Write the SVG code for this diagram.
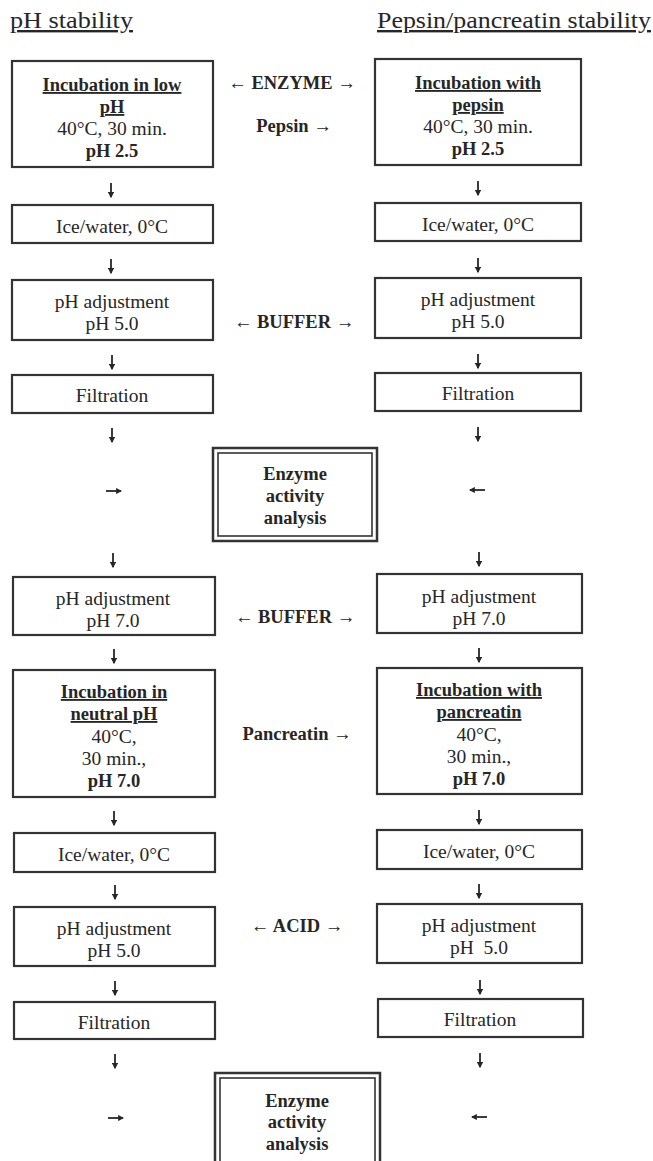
<svg xmlns="http://www.w3.org/2000/svg" width="653" height="1161" viewBox="0 0 653 1161">
<style>
text{font-family:"Liberation Serif","Times New Roman",serif;fill:#262626;font-size:19.5px;text-anchor:middle}
.b{font-weight:bold;font-size:18.5px}
.u{text-decoration:underline}
.title{font-size:24px;text-anchor:start;text-decoration:underline}
.box{fill:#fff;stroke:#333;stroke-width:2.2}
.dbo{fill:#fff;stroke:#333;stroke-width:2.5}
.dbi{fill:none;stroke:#333;stroke-width:1.6}
.arr{stroke:#262626;stroke-width:1.8;fill:none;marker-end:url(#ah)}
.lbl{font-weight:bold;font-size:18.5px}
</style>
<defs>
<marker id="ah" viewBox="0 0 10 10" refX="8" refY="5" markerWidth="3.4" markerHeight="3.4" orient="auto" markerUnits="strokeWidth">
<path d="M0,0 L10,5 L0,10 z" fill="#262626"/>
</marker>
</defs>
<rect width="653" height="1161" fill="#fff"/>

<g id="titles">
<text class="title" x="10" y="28" textLength="123" lengthAdjust="spacingAndGlyphs">pH stability</text>
<text class="title" x="377" y="28" textLength="274" lengthAdjust="spacingAndGlyphs">Pepsin/pancreatin stability</text>
</g>

<g id="L1"><rect class="box" x="12" y="61" width="201" height="106"/>
<text x="112" y="91" class="b u">Incubation in low </text>
<text x="112" y="113" class="b u">pH</text>
<text x="112" y="135">40°C, 30 min.</text>
<text x="112" y="157" class="b">pH 2.5</text></g>
<g id="R1"><rect class="box" x="375" y="59" width="206" height="106"/>
<text x="478" y="89" class="b u">Incubation with</text>
<text x="478" y="111" class="b u">pepsin</text>
<text x="478" y="133">40°C, 30 min.</text>
<text x="478" y="155" class="b">pH 2.5</text></g>

<g id="L2"><rect class="box" x="12" y="205" width="201" height="38"/><text x="112" y="233">Ice/water, 0°C</text></g>
<g id="R2"><rect class="box" x="375" y="203" width="206" height="38"/><text x="478" y="231">Ice/water, 0°C</text></g>

<g id="L3"><rect class="box" x="12" y="280" width="201" height="60"/><text x="112" y="308">pH adjustment</text><text x="112" y="330">pH 5.0</text></g>
<g id="R3"><rect class="box" x="375" y="278" width="206" height="60"/><text x="478" y="306">pH adjustment</text><text x="478" y="328">pH 5.0</text></g>

<g id="L4"><rect class="box" x="12" y="375" width="201" height="38"/><text x="112" y="402">Filtration</text></g>
<g id="R4"><rect class="box" x="375" y="373" width="206" height="38"/><text x="478" y="400">Filtration</text></g>

<g id="E1"><rect class="dbo" x="213" y="448" width="164" height="93"/><rect class="dbi" x="218" y="453" width="154" height="83"/>
<text x="295" y="480" class="b">Enzyme</text><text x="295" y="502" class="b">activity</text><text x="295" y="524" class="b">analysis</text></g>

<g id="L5"><rect class="box" x="13" y="577" width="202" height="58"/><text x="113" y="605">pH adjustment</text><text x="113" y="627">pH 7.0</text></g>
<g id="R5"><rect class="box" x="377" y="574" width="205" height="59"/><text x="479" y="603">pH adjustment</text><text x="479" y="625">pH 7.0</text></g>

<g id="L6"><rect class="box" x="13" y="670" width="202" height="127"/>
<text x="114" y="698" class="b u">Incubation in</text>
<text x="114" y="720" class="b u">neutral pH</text>
<text x="114" y="743">40°C,</text>
<text x="114" y="765">30 min.,</text>
<text x="114" y="787" class="b">pH 7.0</text></g>
<g id="R6"><rect class="box" x="377" y="668" width="205" height="126"/>
<text x="479" y="696" class="b u">Incubation with</text>
<text x="479" y="718" class="b u">pancreatin</text>
<text x="479" y="741">40°C,</text>
<text x="479" y="763">30 min.,</text>
<text x="479" y="785" class="b">pH 7.0</text></g>

<g id="L7"><rect class="box" x="14" y="833" width="201" height="39"/><text x="114" y="861">Ice/water, 0°C</text></g>
<g id="R7"><rect class="box" x="377" y="830" width="205" height="39"/><text x="479" y="858">Ice/water, 0°C</text></g>

<g id="L8"><rect class="box" x="14" y="907" width="201" height="59"/><text x="114" y="935">pH adjustment</text><text x="114" y="957">pH 5.0</text></g>
<g id="R8"><rect class="box" x="377" y="904" width="205" height="59"/><text x="479" y="932">pH adjustment</text><text x="479" y="954" xml:space="preserve">pH  5.0</text></g>

<g id="L9"><rect class="box" x="14" y="1002" width="201" height="37"/><text x="114" y="1029">Filtration</text></g>
<g id="R9"><rect class="box" x="378" y="999" width="205" height="38"/><text x="480" y="1026">Filtration</text></g>

<g id="E2"><rect class="dbo" x="215" y="1073" width="165" height="100"/><rect class="dbi" x="220" y="1078" width="155" height="90"/>
<text x="297" y="1107" class="b">Enzyme</text><text x="297" y="1128" class="b">activity</text><text x="297" y="1150" class="b">analysis</text></g>

<g id="labels">
<text x="292" y="89" class="lbl">← ENZYME →</text>
<text x="294" y="132" class="lbl">Pepsin →</text>
<text x="294" y="328" class="lbl">← BUFFER →</text>
<text x="295" y="623" class="lbl">← BUFFER →</text>
<text x="297" y="740" class="lbl">Pancreatin →</text>
<text x="297" y="932" class="lbl">← ACID →</text>
</g>

<g id="connectors">
<line class="arr" x1="111" y1="183" x2="111" y2="197"/>
<line class="arr" x1="478" y1="181" x2="478" y2="195"/>
<line class="arr" x1="111" y1="259" x2="111" y2="273"/>
<line class="arr" x1="478" y1="258" x2="478" y2="272"/>
<line class="arr" x1="112" y1="355" x2="112" y2="369"/>
<line class="arr" x1="478" y1="354" x2="478" y2="368"/>
<line class="arr" x1="112" y1="428" x2="112" y2="442"/>
<line class="arr" x1="478" y1="427" x2="478" y2="441"/>
<line class="arr" x1="106" y1="491" x2="121" y2="491"/>
<line class="arr" x1="485" y1="490" x2="470" y2="490"/>
<line class="arr" x1="113" y1="553" x2="113" y2="567"/>
<line class="arr" x1="479" y1="552" x2="479" y2="566"/>
<line class="arr" x1="114" y1="649" x2="114" y2="663"/>
<line class="arr" x1="479" y1="648" x2="479" y2="662"/>
<line class="arr" x1="114" y1="811" x2="114" y2="825"/>
<line class="arr" x1="479" y1="810" x2="479" y2="824"/>
<line class="arr" x1="115" y1="885" x2="115" y2="899"/>
<line class="arr" x1="479" y1="884" x2="479" y2="898"/>
<line class="arr" x1="115" y1="981" x2="115" y2="995"/>
<line class="arr" x1="480" y1="980" x2="480" y2="994"/>
<line class="arr" x1="115" y1="1054" x2="115" y2="1068"/>
<line class="arr" x1="480" y1="1053" x2="480" y2="1067"/>
<line class="arr" x1="108" y1="1118" x2="123" y2="1118"/>
<line class="arr" x1="487" y1="1117" x2="472" y2="1117"/>
</g>
</svg>
